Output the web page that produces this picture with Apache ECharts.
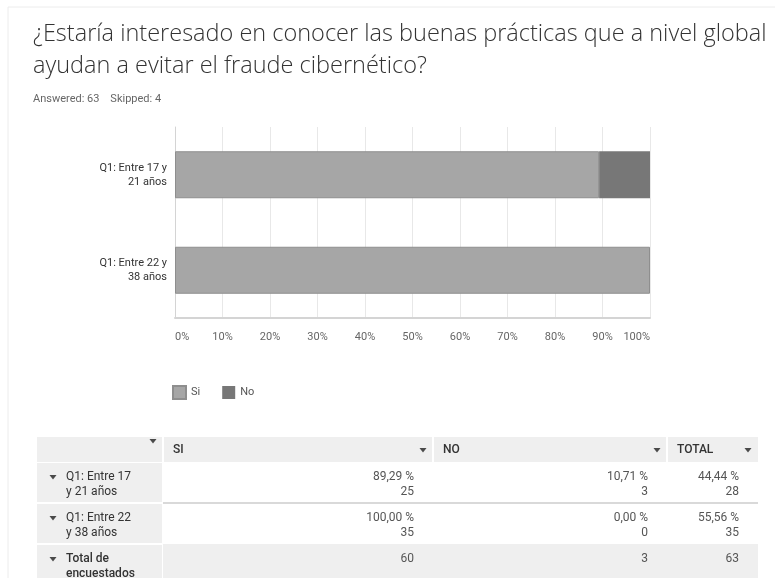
<!DOCTYPE html>
<html>
<head>
<meta charset="utf-8">
<script src="https://cdn.jsdelivr.net/npm/echarts@6/dist/echarts.min.js"></script>
<style>
  html, body { margin: 0; padding: 0; background: #ffffff; }
  #chart { width: 775px; height: 578px; }
</style>
</head>
<body>
<div id="chart"></div>
<script>
// Survey question and response counts
const questionTitle = '¿Estaría interesado en conocer las buenas prácticas que a nivel global\nayudan a evitar el fraude cibernético?';
const answeredText = 'Answered: 63    Skipped: 4';

const categories = ['Q1: Entre 17 y\n21 años', 'Q1: Entre 22 y\n38 años'];
const seriesNames = ['Si', 'No'];
const siPct = [89.29, 100.00];
const noPct = [10.71, 0.00];
const siCount = [25, 35];
const noCount = [3, 0];
const totalPct = [44.44, 55.56];
const totalCount = [28, 35];
const columnTotals = [60, 3, 63];

const tableHeaders = ['SI', 'NO', 'TOTAL'];
const tableRowLabels = ['Q1: Entre 17\ny 21 años', 'Q1: Entre 22\ny 38 años', 'Total de\nencuestados'];

const FONT = 'Roboto, "Noto Sans", sans-serif';
const TITLE_FONT = '"Open Sans", Roboto, sans-serif';
const fmtPct = v => v.toFixed(2).replace('.', ',') + ' %';

// ---- crosstab table below the chart ----
const colX = [37, 163, 433, 667, 758];      // column edges
const rowY = [437, 462, 503, 544, 586];     // row edges
const GREY = '#efefef';

function arrow(cx, cy) {
  return {
    type: 'polygon',
    shape: { points: [[cx - 3.5, cy - 2], [cx + 3.5, cy - 2], [cx, cy + 2.5]] },
    style: { fill: '#4a4a4a' },
    silent: true
  };
}

function buildTable() {
  const els = [];
  // header cells
  for (let c = 0; c < 4; c++) {
    els.push({ type: 'rect', shape: { x: colX[c] + (c ? 1 : 0), y: rowY[0], width: colX[c + 1] - colX[c] - (c ? 1 : 0) - (c < 3 ? 1 : 0), height: rowY[1] - rowY[0] }, style: { fill: GREY }, silent: true });
  }
  els.push(arrow(153, 441));
  tableHeaders.forEach((h, i) => {
    els.push({ type: 'text', x: colX[i + 1] + 10, y: 450, style: { text: h, font: '500 12px ' + FONT, fill: '#333', textVerticalAlign: 'middle' }, silent: true });
    els.push(arrow(colX[i + 2] - 10, 450));
  });
  // row label cells + data rows
  const dataRows = [
    [[fmtPct(siPct[0]), siCount[0]], [fmtPct(noPct[0]), noCount[0]], [fmtPct(totalPct[0]), totalCount[0]]],
    [[fmtPct(siPct[1]), siCount[1]], [fmtPct(noPct[1]), noCount[1]], [fmtPct(totalPct[1]), totalCount[1]]],
    [[String(columnTotals[0])], [String(columnTotals[1])], [String(columnTotals[2])]]
  ];
  for (let r = 0; r < 3; r++) {
    const top = rowY[r + 1] + 1, bottom = rowY[r + 2] - 1;
    els.push({ type: 'rect', shape: { x: colX[0], y: top, width: colX[1] - colX[0] - 1, height: bottom - top }, style: { fill: GREY }, silent: true });
    if (r === 2) {
      els.push({ type: 'rect', shape: { x: colX[1], y: rowY[3], width: colX[4] - colX[1], height: rowY[4] - rowY[3] }, style: { fill: GREY }, silent: true });
    }
    const ty = rowY[r + 1] + 15;
    els.push(arrow(53, ty));
    els.push({ type: 'text', x: 66, y: ty - 8, style: { text: tableRowLabels[r], font: (r === 2 ? '500 ' : '') + '12px ' + FONT, fill: '#333', lineHeight: 15 }, silent: true });
    dataRows[r].forEach((cell, c) => {
      els.push({ type: 'text', x: colX[c + 2] - 19, y: ty - 8, style: { text: cell.join('\n'), font: '12px ' + FONT, fill: '#555', align: 'right', lineHeight: 15 }, silent: true });
    });
  }
  // divider between the two data rows
  els.push({ type: 'rect', shape: { x: colX[1], y: rowY[2] - 1, width: colX[4] - colX[1], height: 2 }, style: { fill: '#d9d9d9' }, silent: true });
  return els;
}

const chart = echarts.init(document.getElementById('chart'), null, { renderer: 'canvas' });

chart.setOption({
  backgroundColor: '#ffffff',
  animation: false,
  title: {
    text: questionTitle,
    left: 28,
    top: 13,
    textStyle: { fontFamily: TITLE_FONT, fontSize: 23.5, fontWeight: 300, color: '#333', lineHeight: 32 }
  },
  legend: {
    data: seriesNames,
    left: 167,
    top: 380,
    icon: 'rect',
    itemWidth: 13,
    itemHeight: 13,
    itemGap: 22,
    textStyle: { fontFamily: FONT, fontSize: 11, color: '#555' }
  },
  grid: { left: 175, right: 125, top: 127, bottom: 260, containLabel: false, outerBoundsMode: 'none' },
  xAxis: {
    type: 'value',
    min: 0,
    max: 100,
    interval: 10,
    axisLine: { show: true, lineStyle: { color: '#d4d4d4', width: 2 } },
    axisTick: { show: false },
    splitLine: { show: true, lineStyle: { color: '#e8e8e8' } },
    axisLabel: {
      formatter: '{value}%',
      margin: 14,
      fontFamily: FONT,
      fontSize: 11,
      color: '#666',
      alignMinLabel: 'left',
      alignMaxLabel: 'right'
    }
  },
  yAxis: {
    type: 'category',
    data: categories,
    inverse: true,
    axisLine: { show: true, lineStyle: { color: '#d4d4d4' } },
    axisTick: { show: false },
    axisLabel: { fontFamily: FONT, fontSize: 11, color: '#333', lineHeight: 14, margin: 8, align: 'right' }
  },
  series: [
    {
      name: seriesNames[0],
      type: 'bar',
      stack: 'total',
      data: siPct,
      barWidth: 47,
      itemStyle: { color: '#a6a6a6', borderColor: '#8e8e8e', borderWidth: 1 }
    },
    {
      name: seriesNames[1],
      type: 'bar',
      stack: 'total',
      data: noPct,
      barWidth: 47,
      itemStyle: { color: '#777777', borderWidth: 0 }
    }
  ],
  graphic: [
    { type: 'rect', shape: { x: 8, y: 7, width: 800, height: 600 }, style: { fill: 'none', stroke: '#ececec', lineWidth: 1 }, silent: true },
    { type: 'text', x: 33, y: 99, style: { text: answeredText, font: '11px ' + FONT, fill: '#666', textVerticalAlign: 'middle' }, silent: true }
  ].concat(buildTable())
});
</script>
</body>
</html>
